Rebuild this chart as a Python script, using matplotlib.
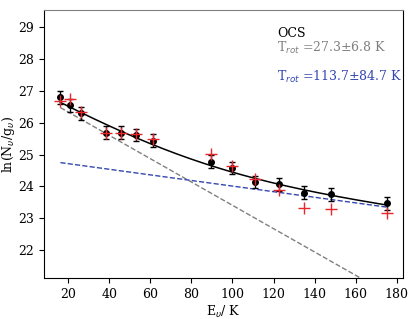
import numpy as np
from matplotlib import pyplot as plt

# Upper level energies (K) and measured column densities
energy = [16.3, 21.0, 26.3, 38.6, 45.8, 53.0, 61.3, 89.4, 99.8, 111.0, 122.6, 134.8, 147.8, 175.0]
ln_obs = [26.80, 26.54, 26.29, 25.69, 25.69, 25.61, 25.43, 24.77, 24.58, 24.14, 24.06, 23.80, 23.75, 23.47]
ln_err = [0.2, 0.2, 0.2, 0.2, 0.2, 0.2, 0.2, 0.2, 0.2, 0.2, 0.2, 0.2, 0.2, 0.2]
# Model values (red crosses)
ln_model = [26.67, 26.74, 26.33, 25.67, 25.67, 25.66, 25.49, 25.02, 24.63, 24.22, 23.90, 23.33, 23.30, 23.18]

# Two temperature components: intercepts at E=0 and temperatures
t_cold, t_cold_err, b_cold = 27.3, 6.8, 27.07
t_warm, t_warm_err, b_warm = 113.7, 84.7, 24.89

plt.rcParams["font.family"] = "DejaVu Serif"
plt.rcParams["mathtext.fontset"] = "dejavusans"

fig = plt.figure(figsize=(4.15, 3.19), dpi=100)
ax = fig.add_axes([0.106, 0.128, 0.865, 0.84])

e_line = np.linspace(min(energy), max(energy), 200)
cold = b_cold - e_line / t_cold
warm = b_warm - e_line / t_warm
total = np.logaddexp(cold, warm)

ax.plot(e_line, cold, color="gray", linestyle="--", linewidth=1)
ax.plot(e_line, warm, color="#3447b0", linestyle="--", linewidth=1)
ax.plot(e_line, total, color="black", linewidth=1.1)

ax.errorbar(energy, ln_obs, yerr=ln_err, fmt="o", color="black",
            markersize=4, capsize=2, elinewidth=1, zorder=3)
ax.plot(energy, ln_model, "+", color="#e8262b", markersize=8.5,
        markeredgewidth=1, zorder=4)

ax.set_xlim(8.3, 183)
ax.set_ylim(21.12, 29.53)
ax.set_xticks([20, 40, 60, 80, 100, 120, 140, 160, 180])
ax.set_yticks([22, 23, 24, 25, 26, 27, 28, 29])
ax.tick_params(labelsize=9)

ax.spines["top"].set_color("gray")

ax.set_xlabel(r"E$_\upsilon$/ K", fontsize=9, labelpad=2)
ax.set_ylabel(r"ln(N$_\upsilon$/g$_\upsilon$)", fontsize=9, labelpad=1)

ax.text(0.65, 0.90, "OCS", transform=ax.transAxes, fontsize=9, color="black")
ax.text(0.65, 0.845, r"T$_{rot}$ =%.1f$\pm$%.1f K" % (t_cold, t_cold_err),
        transform=ax.transAxes, fontsize=9, color="gray")
ax.text(0.65, 0.735, r"T$_{rot}$ =%.1f$\pm$%.1f K" % (t_warm, t_warm_err),
        transform=ax.transAxes, fontsize=9, color="#3447b0")

plt.savefig("out.png", dpi=100)
